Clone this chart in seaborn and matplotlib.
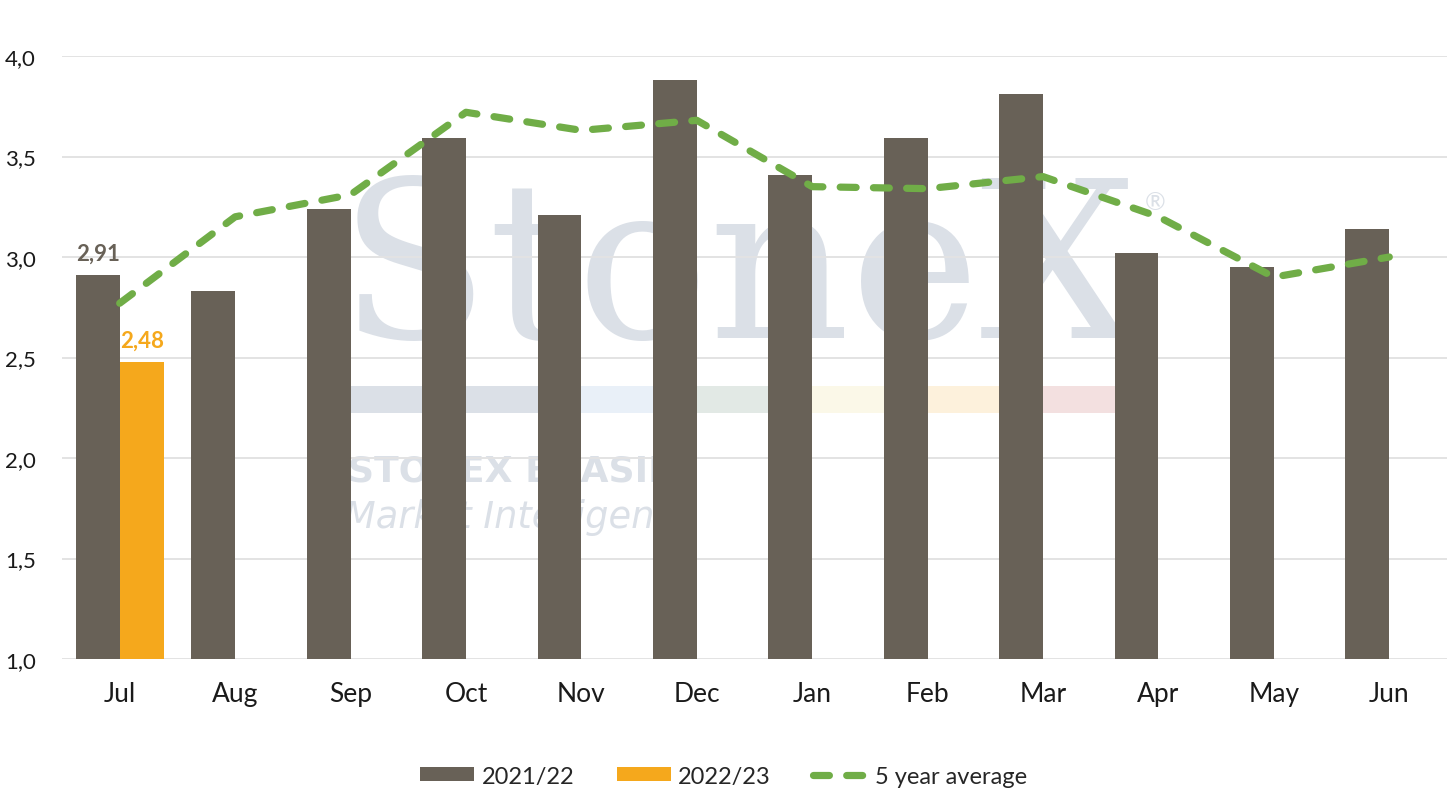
import matplotlib.pyplot as plt
import numpy as np
import pandas as pd
import seaborn as sns
from matplotlib.patches import Rectangle, Patch
from matplotlib.lines import Line2D
from matplotlib.ticker import FuncFormatter

# Data
months = ['Jul', 'Aug', 'Sep', 'Oct', 'Nov', 'Dec', 'Jan', 'Feb', 'Mar', 'Apr', 'May', 'Jun']
season_2122 = [2.91, 2.83, 3.24, 3.59, 3.21, 3.88, 3.41, 3.59, 3.81, 3.02, 2.95, 3.14]
season_2223 = [2.48] + [np.nan] * 11
avg_5y = [2.77, 3.20, 3.31, 3.72, 3.63, 3.68, 3.35, 3.34, 3.40, 3.20, 2.90, 3.00]
seasons = ['2021/22', '2022/23']

grey = '#686157'
orange = '#f5a81c'
green = '#70ad47'
wm = '#dbe0e7'
dash = (0, (2.2, 2.4))

sns.set_style('white')
plt.rcParams['font.family'] = ['Lato', 'DejaVu Sans']

df = pd.DataFrame({
    'month': months * 2,
    'season': [seasons[0]] * 12 + [seasons[1]] * 12,
    'value': season_2122 + season_2223,
})

W, H = 1447, 812
fig = plt.figure(figsize=(W / 100, H / 100), dpi=100)
L, R, T, B = 62, 1447, 57, 660
ax = fig.add_axes([L / W, 1 - B / H, (R - L) / W, (B - T) / H])


def px(x, y):
    # pixel position -> axes fraction (for the watermark only)
    return (x - L) / (R - L), (B - y) / (B - T)


# Watermark
ax.text(*px(738, 338), 'StoneX', transform=ax.transAxes, ha='center', va='baseline',
        fontsize=158, family='DejaVu Serif', color=wm, zorder=0.1)
ax.text(*px(1155, 203), '®', transform=ax.transAxes, ha='center', va='center',
        fontsize=18, color=wm, zorder=0.1)
band = [(350, 560, '#dbe0e7'), (560, 675, '#e9f0f8'), (675, 790, '#e2e9e5'),
        (790, 905, '#fbf8e8'), (905, 1020, '#fdf1dc'), (1020, 1115, '#f3e0e0')]
for x0, x1, c in band:
    bx, by = px(x0, 414)
    bw = (x1 - x0) / (R - L)
    bh = 27 / (B - T)
    ax.add_patch(Rectangle((bx, by), bw, bh, transform=ax.transAxes, color=c,
                           lw=0, zorder=0.1))
ax.text(*px(348, 472), 'STONEX BRASIL', transform=ax.transAxes, ha='left', va='center',
        fontsize=26, fontweight='bold', family='DejaVu Sans', color=wm, zorder=0.1)
ax.text(*px(344, 518), 'Market Intelligence', transform=ax.transAxes, ha='left', va='center',
        fontsize=26.5, fontstyle='oblique', family='DejaVu Sans', color=wm, zorder=0.1)

# Bars
sns.barplot(data=df, x='month', y='value', hue='season', order=months, hue_order=seasons,
            palette=[grey, orange], width=0.76, gap=0, saturation=1, legend=False,
            linewidth=0, edgecolor='none', ax=ax, zorder=3)

# 5 year average line
sns.lineplot(x=np.arange(len(months)), y=avg_5y, color=green, lw=5.2,
             linestyle=dash, dash_capstyle='round', ax=ax, zorder=4)

# Value labels for July bars
for cont, vals, c in zip(ax.containers[:2], [season_2122, season_2223], [grey, orange]):
    p = cont[0]
    ax.text(p.get_x() + p.get_width() / 2, vals[0] + 0.055, f'{vals[0]:.2f}'.replace('.', ','),
            ha='center', va='bottom', fontsize=16, fontweight='bold', color=c, zorder=5)

ax.set_ylim(1, 4)
ax.set_xlim(-0.5, 11.5)
ax.set_yticks(np.arange(1, 4.01, 0.5))
ax.yaxis.set_major_formatter(FuncFormatter(lambda v, _: f'{v:.1f}'.replace('.', ',')))
ax.set_axisbelow(True)
ax.yaxis.grid(True, color='#e3e3e3', lw=1.4, zorder=0.5)
ax.xaxis.grid(False)
for s in ax.spines.values():
    s.set_visible(False)
ax.tick_params(axis='both', length=0, labelcolor='#1a1a1a')
ax.tick_params(axis='y', pad=19, labelsize=16)
ax.tick_params(axis='x', pad=16, labelsize=19)
ax.set_xlabel('')
ax.set_ylabel('')
ax.patch.set_alpha(0)

handles = [Patch(facecolor=grey, edgecolor='none'),
           Patch(facecolor=orange, edgecolor='none'),
           Line2D([0], [0], color=green, lw=5.2, linestyle=dash, dash_capstyle='round')]
fig.legend(handles, seasons + ['5 year average'], loc='center', bbox_to_anchor=(0.5, 0.043),
           ncol=3, frameon=False, fontsize=17, handlelength=2.3, handleheight=0.55,
           handletextpad=0.3, columnspacing=1.8)

fig.savefig('out.png', dpi=100)
